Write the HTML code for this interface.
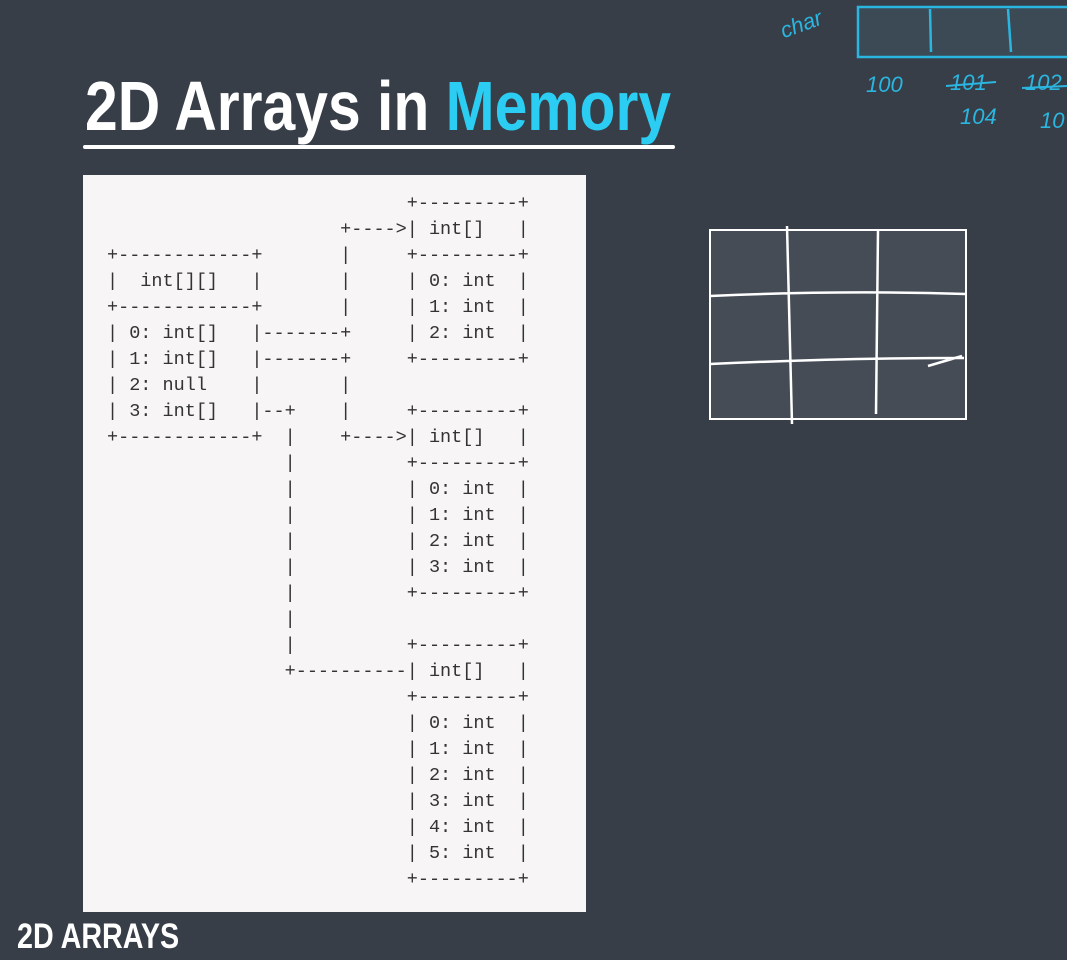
<!DOCTYPE html>
<html><head><meta charset="utf-8"><style>
html,body{margin:0;padding:0}
body{width:1067px;height:960px;background:#373e48;position:relative;overflow:hidden;font-family:"Liberation Sans",sans-serif}
.title{position:absolute;left:85px;top:64px;font-family:"Liberation Sans",sans-serif;font-weight:bold;font-size:70px;color:#fff;white-space:nowrap;line-height:84px;transform:scaleX(0.84);transform-origin:0 0}
.title span{color:#2ccdf3}
.ul{position:absolute;left:83px;top:145px;width:592px;height:4px;background:#fff;border-radius:2px}
.panel{position:absolute;left:83px;top:175px;width:503px;height:737px;background:#f7f5f5}
pre{position:absolute;left:107px;top:191px;margin:0;font-family:"Liberation Mono",monospace;font-size:18.5px;line-height:26px;color:#333}
.foot{position:absolute;left:17px;top:917px;font-family:"Liberation Sans",sans-serif;font-weight:bold;font-size:35px;color:#fff;transform:scaleX(0.82);transform-origin:0 0;white-space:nowrap}
</style></head><body>
<div class="title">2D Arrays in <span>Memory</span></div>
<div class="ul"></div>
<div class="panel"></div>
<pre>                           +---------+
                     +---->| int[]   |
+------------+       |     +---------+
|  int[][]   |       |     | 0: int  |
+------------+       |     | 1: int  |
| 0: int[]   |-------+     | 2: int  |
| 1: int[]   |-------+     +---------+
| 2: null    |       |
| 3: int[]   |--+    |     +---------+
+------------+  |    +---->| int[]   |
                |          +---------+
                |          | 0: int  |
                |          | 1: int  |
                |          | 2: int  |
                |          | 3: int  |
                |          +---------+
                |
                |          +---------+
                +----------| int[]   |
                           +---------+
                           | 0: int  |
                           | 1: int  |
                           | 2: int  |
                           | 3: int  |
                           | 4: int  |
                           | 5: int  |
                           +---------+</pre>
<svg style="position:absolute;left:0;top:0" width="1067" height="960">
 <rect x="710" y="230" width="256" height="189" fill="#454c56" stroke="#fff" stroke-width="2"/>
 <path d="M787 226 L792 424 M878 230 L876 414 M710 296 Q840 290 966 294 M710 364 Q840 358 964 358 M928 366 L962 356" stroke="#fff" stroke-width="2.5" fill="none"/>
 <rect x="858" y="7" width="215" height="50" fill="#3b4a55" stroke="#2ab6e0" stroke-width="2.5"/>
 <path d="M930 9 L931 52 M1008 9 L1011 52" stroke="#2ab6e0" stroke-width="2.5" fill="none"/>
 <g fill="#2ab6e0" font-family="Liberation Sans,sans-serif" font-size="22" font-style="italic">
  <text x="780" y="32" transform="rotate(-20 800 25)">char</text>
  <text x="866" y="92">100</text>
  <text x="950" y="90">101</text>
  <text x="960" y="124">104</text>
  <text x="1025" y="90">102</text>
  <text x="1040" y="128">10</text>
 </g>
 <path d="M946 86 L996 82 M1022 88 L1067 86" stroke="#2ab6e0" stroke-width="2"/>
</svg>
<div class="foot">2D ARRAYS</div>
</body></html>
